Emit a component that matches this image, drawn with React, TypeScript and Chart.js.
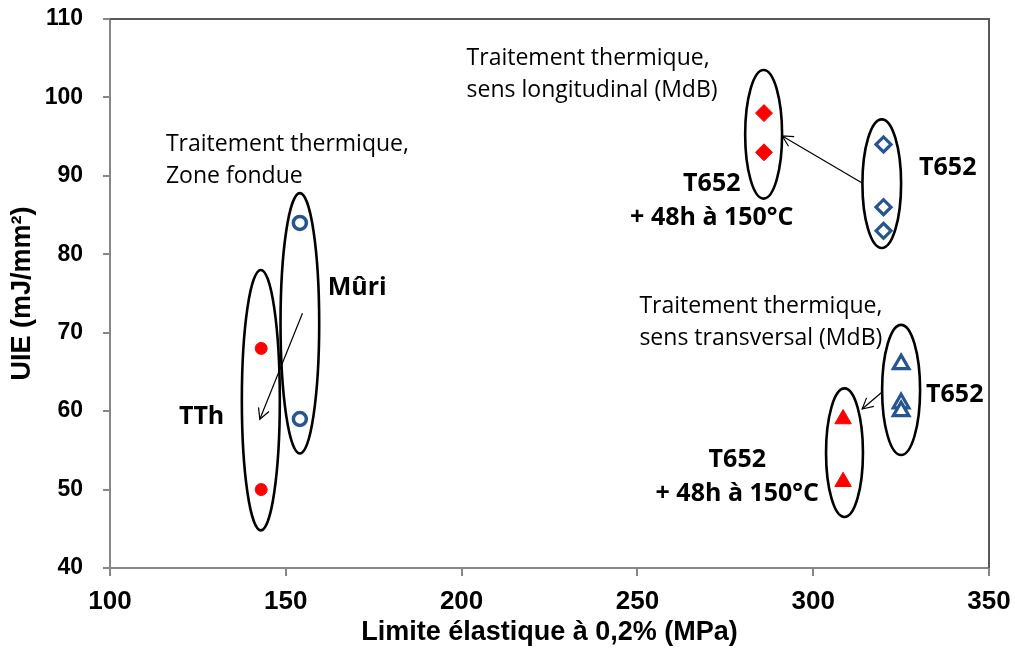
import React, { useEffect, useRef } from "react";
import { Chart, registerables } from "chart.js";

Chart.register(...registerables);

// ---- axis ticks ----
const xTicks = [100, 150, 200, 250, 300, 350];
const yTicks = [40, 50, 60, 70, 80, 90, 100, 110];

// ---- series (Limite élastique MPa, UIE mJ/mm²) ----
const tthX = [143, 143];
const tthY = [68, 50];
const muriX = [154, 154];
const muriY = [84, 59];
const longTthX = [286, 286];
const longTthY = [98, 93];
const longT652X = [320, 320, 320];
const longT652Y = [94, 86, 83];
const transTthX = [308.5, 308.5];
const transTthY = [59, 51];
const transT652X = [325, 325, 325];
const transT652Y = [66, 61, 60];

// ---- annotations (in data units) ----
const ellipses = [
  { cx: 142.9, cy: 61.4, rx: 5.4, ry: 16.6 },
  { cx: 154.0, cy: 71.2, rx: 5.5, ry: 16.6 },
  { cx: 285.9, cy: 95.3, rx: 5.25, ry: 8.2 },
  { cx: 319.5, cy: 89.0, rx: 5.5, ry: 8.2 },
  { cx: 308.9, cy: 54.7, rx: 5.25, ry: 8.2 },
  { cx: 325.0, cy: 62.7, rx: 5.4, ry: 8.3 },
];

const arrows = [
  { x1: 154.74, y1: 72.47, x2: 142.61, y2: 58.96 },
  { x1: 313.92, y1: 89.09, x2: 291.19, y2: 95.08 },
  { x1: 319.6, y1: 62.44, x2: 313.92, y2: 60.27 },
];

const notes = [
  { text: "Traitement thermique,", x: 115.91, y: 93.17, bold: false, align: "left" },
  { text: "Zone fondue", x: 115.91, y: 89.09, bold: false, align: "left" },
  { text: "Mûri", x: 161.93, y: 74.81, bold: true, align: "left" },
  { text: "TTh", x: 119.6, y: 58.36, bold: true, align: "left" },
  { text: "Traitement thermique,", x: 201.42, y: 104.13, bold: false, align: "left" },
  { text: "sens longitudinal (MdB)", x: 201.42, y: 100.05, bold: false, align: "left" },
  { text: "T652", x: 271.16, y: 88.07, bold: true, align: "center" },
  { text: "+ 48h à 150°C", x: 271.16, y: 83.73, bold: true, align: "center" },
  { text: "T652", x: 330.11, y: 90.11, bold: true, align: "left" },
  { text: "Traitement thermique,", x: 250.57, y: 72.51, bold: false, align: "left" },
  { text: "sens transversal (MdB)", x: 250.57, y: 68.43, bold: false, align: "left" },
  { text: "T652", x: 278.41, y: 52.88, bold: true, align: "center" },
  { text: "+ 48h à 150°C", x: 278.41, y: 48.54, bold: true, align: "center" },
  { text: "T652", x: 332.1, y: 61.17, bold: true, align: "left" },
];

const RED = "#FF0000";
const BLUE = "#27558F";

const zip = (xs: number[], ys: number[]) => xs.map((x, i) => ({ x, y: ys[i] }));

const overlay = {
  id: "overlay",
  afterDatasetsDraw(chart: any) {
    const { ctx, chartArea, scales } = chart;
    const xs = scales.x;
    const ys = scales.y;
    const px = (v: number) => xs.getPixelForValue(v);
    const py = (v: number) => ys.getPixelForValue(v);
    ctx.save();

    // plot-area border (top & right)
    ctx.strokeStyle = "#595959";
    ctx.lineWidth = 2;
    ctx.beginPath();
    ctx.moveTo(chartArea.left, chartArea.top);
    ctx.lineTo(chartArea.right, chartArea.top);
    ctx.lineTo(chartArea.right, chartArea.bottom);
    ctx.stroke();

    // ellipses
    ctx.strokeStyle = "#000";
    ctx.lineWidth = 2.6;
    for (const e of ellipses) {
      const cx = px(e.cx);
      const cy = py(e.cy);
      const rx = Math.abs(px(e.cx + e.rx) - cx);
      const ry = Math.abs(py(e.cy + e.ry) - cy);
      ctx.beginPath();
      ctx.ellipse(cx, cy, rx, ry, 0, 0, Math.PI * 2);
      ctx.stroke();
    }

    // arrows
    ctx.lineWidth = 1.2;
    for (const a of arrows) {
      const x1 = px(a.x1), y1 = py(a.y1), x2 = px(a.x2), y2 = py(a.y2);
      ctx.beginPath();
      ctx.moveTo(x1, y1);
      ctx.lineTo(x2, y2);
      ctx.stroke();
      const ang = Math.atan2(y2 - y1, x2 - x1);
      const L = 12;
      const h = (28 * Math.PI) / 180;
      ctx.beginPath();
      ctx.moveTo(x2 - L * Math.cos(ang - h), y2 - L * Math.sin(ang - h));
      ctx.lineTo(x2, y2);
      ctx.lineTo(x2 - L * Math.cos(ang + h), y2 - L * Math.sin(ang + h));
      ctx.stroke();
    }

    // text notes
    ctx.fillStyle = "#000";
    ctx.textBaseline = "alphabetic";
    for (const n of notes) {
      ctx.font = n.bold ? "bold 25px 'Open Sans'" : "23px 'Open Sans'";
      ctx.textAlign = n.align as CanvasTextAlign;
      ctx.fillText(n.text, px(n.x), py(n.y));
    }
    ctx.restore();
  },
};

export default function App() {
  const ref = useRef<HTMLCanvasElement>(null);

  useEffect(() => {
    const canvas = ref.current;
    if (!canvas) return;
    const tickFontX = { family: "'Liberation Sans', Arial, sans-serif", size: 26, weight: "bold" as const };
    const tickFontY = { family: "'Liberation Sans', Arial, sans-serif", size: 23, weight: "bold" as const };
    const titleFont = { family: "'Liberation Sans', Arial, sans-serif", size: 27, weight: "bold" as const };

    const chart = new Chart(canvas, {
      type: "scatter",
      data: {
        datasets: [
          {
            label: "TTh",
            data: zip(tthX, tthY),
            pointStyle: "circle",
            pointRadius: 6,
            backgroundColor: RED,
            borderColor: RED,
            borderWidth: 1,
          },
          {
            label: "Mûri",
            data: zip(muriX, muriY),
            pointStyle: "circle",
            pointRadius: 6.5,
            backgroundColor: "#FFFFFF",
            borderColor: BLUE,
            borderWidth: 3.5,
          },
          {
            label: "T652 + 48h à 150°C (long.)",
            data: zip(longTthX, longTthY),
            pointStyle: "rectRot",
            pointRadius: 8.5,
            backgroundColor: RED,
            borderColor: RED,
            borderWidth: 1,
          },
          {
            label: "T652 (long.)",
            data: zip(longT652X, longT652Y),
            pointStyle: "rectRot",
            pointRadius: 7.5,
            backgroundColor: "#FFFFFF",
            borderColor: BLUE,
            borderWidth: 3.2,
          },
          {
            label: "T652 + 48h à 150°C (trans.)",
            data: zip(transTthX, transTthY),
            pointStyle: "triangle",
            pointRadius: 9.5,
            backgroundColor: RED,
            borderColor: RED,
            borderWidth: 1,
          },
          {
            label: "T652 (trans.)",
            data: zip(transT652X, transT652Y),
            pointStyle: "triangle",
            pointRadius: 9,
            backgroundColor: "#FFFFFF",
            borderColor: BLUE,
            borderWidth: 3.2,
          },
        ],
      },
      options: {
        responsive: false,
        animation: false,
        layout: { padding: { left: 0, top: 19, right: 26, bottom: 0 } },
        plugins: { legend: { display: false }, tooltip: { enabled: false } },
        scales: {
          x: {
            type: "linear",
            position: "bottom",
            min: xTicks[0],
            max: xTicks[xTicks.length - 1],
            ticks: { stepSize: xTicks[1] - xTicks[0], font: tickFontX, color: "#000", padding: 10 },
            grid: { drawOnChartArea: false, drawTicks: true, tickLength: 8, color: "#868686", lineWidth: 2 },
            border: { display: true, color: "#868686", width: 2 },
            title: {
              display: true,
              text: "Limite élastique à 0,2% (MPa)",
              font: titleFont,
              color: "#000",
              padding: { top: 0, bottom: 6 },
            },
            afterFit: (s: any) => {
              s.height = 87;
              s.paddingLeft = 0;
              s.paddingRight = 0;
            },
          },
          y: {
            type: "linear",
            min: yTicks[0],
            max: yTicks[yTicks.length - 1],
            ticks: { stepSize: yTicks[1] - yTicks[0], font: tickFontY, color: "#000", padding: 20 },
            grid: { drawOnChartArea: false, drawTicks: true, tickLength: 7, color: "#868686", lineWidth: 2 },
            border: { display: true, color: "#868686", width: 2 },
            title: {
              display: true,
              text: "UIE (mJ/mm²)",
              font: titleFont,
              color: "#000",
              padding: { top: 6, bottom: 0 },
            },
            afterFit: (s: any) => {
              s.width = 110;
              s.paddingTop = 0;
              s.paddingBottom = 0;
            },
          },
        },
      },
      plugins: [overlay],
    } as any);
    return () => chart.destroy();
  }, []);

  return (
    <div style={{ position: "fixed", left: 0, top: 0, width: 1015, height: 655, background: "#fff" }}>
      <canvas ref={ref} width={1015} height={655} style={{ display: "block" }} />
    </div>
  );
}
